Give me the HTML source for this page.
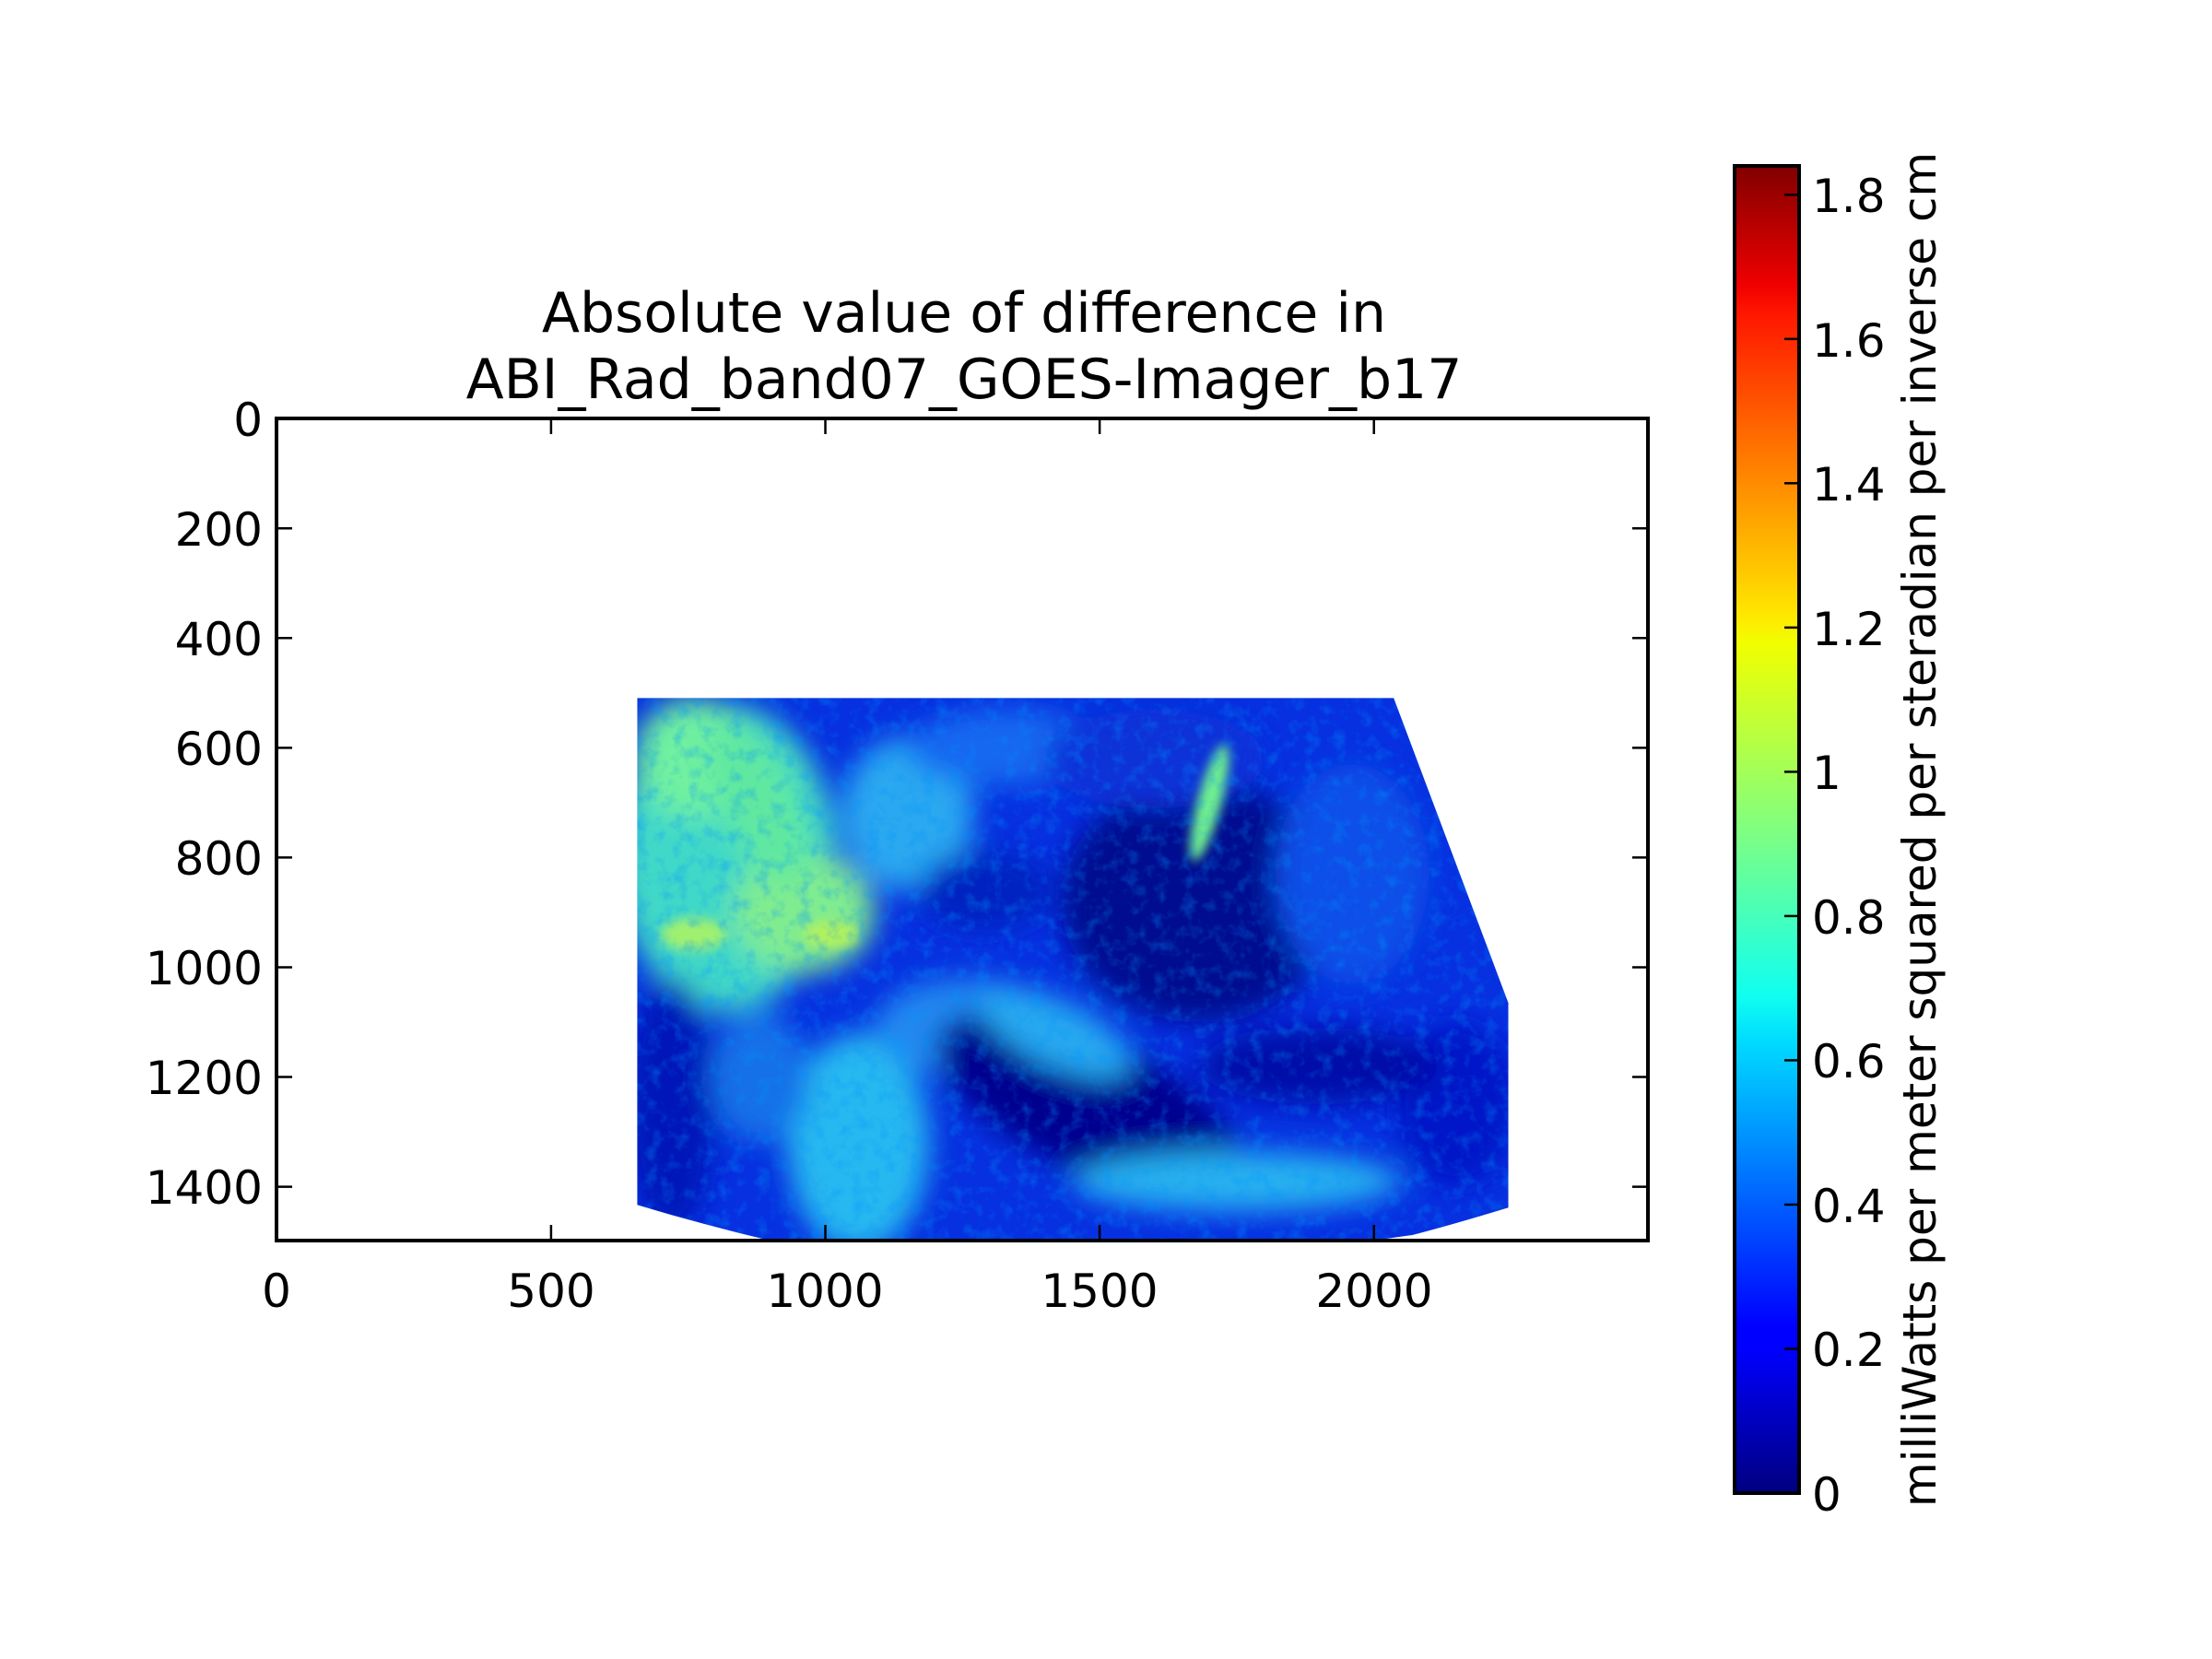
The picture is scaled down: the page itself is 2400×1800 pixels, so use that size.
<!DOCTYPE html>
<html><head><meta charset="utf-8"><style>
html,body{margin:0;padding:0;background:#fff}
svg{display:block}
text{font-family:"DejaVu Sans","Liberation Sans",sans-serif;fill:#000}
</style></head><body>
<svg width="2400" height="1800" viewBox="0 0 2400 1800" xmlns="http://www.w3.org/2000/svg">
<defs>
<clipPath id="clip"><path d="M657,509 L2036,509 L2245,1065 L2245,1438 Q2140,1470 2070,1488 L2000,1498 L898,1498 Q780,1470 657,1433 Z"/></clipPath>
<filter id="b1" x="-50%" y="-50%" width="200%" height="200%"><feGaussianBlur stdDeviation="25"/></filter>
<filter id="b2" x="-50%" y="-50%" width="200%" height="200%"><feGaussianBlur stdDeviation="10"/></filter>
<filter id="noise" x="0" y="0" width="100%" height="100%">
<feTurbulence type="fractalNoise" baseFrequency="0.04" numOctaves="3" seed="4"/>
<feColorMatrix type="matrix" values="0 0 0 0 0  0 0 0 0 0.3  0 0 0 0 1  0 0 0 1.6 -0.75"/>
</filter>
<linearGradient id="jet" x1="0" y1="1" x2="0" y2="0">
<stop offset="0" stop-color="#000080"/><stop offset="0.11" stop-color="#0000ff"/>
<stop offset="0.125" stop-color="#0000ff"/><stop offset="0.34" stop-color="#00dbff"/>
<stop offset="0.375" stop-color="#10fff0"/><stop offset="0.5" stop-color="#80ff80"/>
<stop offset="0.64" stop-color="#f0ff00"/><stop offset="0.66" stop-color="#ffe800"/>
<stop offset="0.89" stop-color="#ff1500"/><stop offset="0.91" stop-color="#f00000"/>
<stop offset="1" stop-color="#800000"/></linearGradient>
</defs>
<g transform="translate(300.3,454.3) scale(0.5952)">
<g clip-path="url(#clip)">
<rect x="600" y="450" width="1700" height="1100" fill="#0630e0"/>
<g filter="url(#b1)">
<ellipse cx="820" cy="800" rx="200" ry="280" fill="#40d8c8"/>
<ellipse cx="760" cy="620" rx="110" ry="110" fill="#70f0a0"/>
<ellipse cx="960" cy="900" rx="130" ry="110" fill="#80ec90"/>
<ellipse cx="880" cy="700" rx="70" ry="160" fill="#60e8a0" transform="rotate(-25 880 700)"/>
<ellipse cx="1150" cy="720" rx="120" ry="140" fill="#2aa8f0"/>
<ellipse cx="1330" cy="600" rx="180" ry="70" fill="#1868f0"/>
<ellipse cx="720" cy="1250" rx="80" ry="230" fill="#0418b8"/>
<ellipse cx="1060" cy="1320" rx="130" ry="200" fill="#28b8f0"/>
<ellipse cx="880" cy="1200" rx="90" ry="120" fill="#1870e8"/>
<ellipse cx="1260" cy="1110" rx="170" ry="90" fill="#2088f0"/>
<ellipse cx="1680" cy="880" rx="250" ry="220" fill="#000890"/>
<ellipse cx="1480" cy="1250" rx="300" ry="120" fill="#00068e" transform="rotate(25 1480 1250)"/>
<ellipse cx="1420" cy="1120" rx="150" ry="60" fill="#28a8f0" transform="rotate(25 1420 1120)"/>
<ellipse cx="1750" cy="1390" rx="300" ry="55" fill="#28b0f0"/>
<ellipse cx="1960" cy="830" rx="140" ry="200" fill="#1050e8"/>
<ellipse cx="2150" cy="1250" rx="110" ry="150" fill="#0218c8"/>
<ellipse cx="1900" cy="1180" rx="220" ry="70" fill="#020aa8"/>
<ellipse cx="1290" cy="860" rx="120" ry="70" fill="#0420c0"/>
<ellipse cx="1600" cy="620" rx="200" ry="90" fill="#0a30d8"/>
</g>
<g filter="url(#b2)">
<ellipse cx="1700" cy="700" rx="22" ry="110" fill="#70f090" transform="rotate(15 1700 700)"/>
<ellipse cx="1010" cy="940" rx="50" ry="25" fill="#b0f060"/>
<ellipse cx="760" cy="940" rx="60" ry="30" fill="#a0f070"/>
</g>
<rect x="600" y="450" width="1700" height="1100" filter="url(#noise)" opacity="0.55"/>
</g>
</g>
<rect x="300" y="454" width="1488" height="892" fill="none" stroke="#000" stroke-width="4"/>
<g stroke="#000" stroke-width="2.5">
<line x1="300.3" y1="454" x2="300.3" y2="471"/><line x1="300.3" y1="1346" x2="300.3" y2="1329"/>
<line x1="597.9" y1="454" x2="597.9" y2="471"/><line x1="597.9" y1="1346" x2="597.9" y2="1329"/>
<line x1="895.5" y1="454" x2="895.5" y2="471"/><line x1="895.5" y1="1346" x2="895.5" y2="1329"/>
<line x1="1193.1" y1="454" x2="1193.1" y2="471"/><line x1="1193.1" y1="1346" x2="1193.1" y2="1329"/>
<line x1="1490.7" y1="454" x2="1490.7" y2="471"/><line x1="1490.7" y1="1346" x2="1490.7" y2="1329"/>
<line x1="300" y1="573.3" x2="317" y2="573.3"/><line x1="1788" y1="573.3" x2="1771" y2="573.3"/>
<line x1="300" y1="692.3" x2="317" y2="692.3"/><line x1="1788" y1="692.3" x2="1771" y2="692.3"/>
<line x1="300" y1="811.4" x2="317" y2="811.4"/><line x1="1788" y1="811.4" x2="1771" y2="811.4"/>
<line x1="300" y1="930.4" x2="317" y2="930.4"/><line x1="1788" y1="930.4" x2="1771" y2="930.4"/>
<line x1="300" y1="1049.5" x2="317" y2="1049.5"/><line x1="1788" y1="1049.5" x2="1771" y2="1049.5"/>
<line x1="300" y1="1168.5" x2="317" y2="1168.5"/><line x1="1788" y1="1168.5" x2="1771" y2="1168.5"/>
<line x1="300" y1="1287.6" x2="317" y2="1287.6"/><line x1="1788" y1="1287.6" x2="1771" y2="1287.6"/>
</g>
<g font-size="50" text-anchor="end" dominant-baseline="central">
<text x="285" y="456">0</text><text x="285" y="575">200</text><text x="285" y="694">400</text>
<text x="285" y="813">600</text><text x="285" y="932">800</text><text x="285" y="1051">1000</text>
<text x="285" y="1170">1200</text><text x="285" y="1289">1400</text>
</g>
<g font-size="50" text-anchor="middle">
<text x="300" y="1418">0</text><text x="598" y="1418">500</text><text x="895" y="1418">1000</text>
<text x="1193" y="1418">1500</text><text x="1491" y="1418">2000</text>
</g>
<g font-size="60" text-anchor="middle">
<text x="1046" y="360">Absolute value of difference in</text>
<text x="1046" y="432">ABI_Rad_band07_GOES-Imager_b17</text>
</g>
<rect x="1882" y="180" width="70" height="1440" fill="url(#jet)" stroke="#000" stroke-width="4"/>
<g stroke="#000" stroke-width="2.5">
<line x1="1952" y1="1463.5" x2="1936" y2="1463.5"/><line x1="1952" y1="1307" x2="1936" y2="1307"/>
<line x1="1952" y1="1150.4" x2="1936" y2="1150.4"/><line x1="1952" y1="993.9" x2="1936" y2="993.9"/>
<line x1="1952" y1="837.4" x2="1936" y2="837.4"/><line x1="1952" y1="680.9" x2="1936" y2="680.9"/>
<line x1="1952" y1="524.3" x2="1936" y2="524.3"/><line x1="1952" y1="367.8" x2="1936" y2="367.8"/>
<line x1="1952" y1="211.3" x2="1936" y2="211.3"/>
</g>
<g font-size="50" dominant-baseline="central">
<text x="1966" y="1622">0</text><text x="1966" y="1465">0.2</text><text x="1966" y="1309">0.4</text>
<text x="1966" y="1152">0.6</text><text x="1966" y="996">0.8</text><text x="1966" y="839">1</text>
<text x="1966" y="683">1.2</text><text x="1966" y="526">1.4</text><text x="1966" y="370">1.6</text>
<text x="1966" y="213">1.8</text>
</g>
<text font-size="50" text-anchor="middle" transform="translate(2100,900) rotate(-90)">milliWatts per meter squared per steradian per inverse cm</text>
</svg>
</body></html>
